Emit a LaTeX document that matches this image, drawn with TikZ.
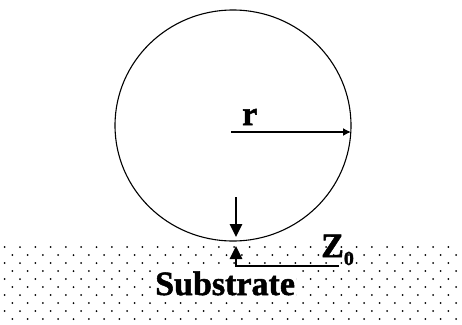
\documentclass[tikz,border=0pt]{standalone}
\usepackage{fontspec}
\setmainfont{Liberation Serif}
\newfontfamily\heavy[FakeBold=1.5]{Liberation Serif Bold}
\usetikzlibrary{arrows.meta}
\begin{document}
\begin{tikzpicture}[x=1pt,y=-1pt,
  dotstyle/.style={fill=black},
  outline/.style={line width=1.1pt},
  bigarrow/.style={line width=2.6pt,-{Triangle[length=13pt,width=12pt]}},
  radarrow/.style={line width=1.4pt,-{Latex[length=8pt,width=8pt]}},
  lbl/.style={font=\fontsize{34}{34}\heavy,inner sep=0pt}]
\useasboundingbox[fill=white] (0,0) rectangle (462,324);
% substrate dots
\foreach \i in {0,...,9}{
  \pgfmathsetmacro{\yy}{247+8*\i}
  \pgfmathsetmacro{\xo}{mod(\i,2)==0 ? 4.7 : 12.3}
  \foreach \k in {0,...,30}{
    \fill[dotstyle] ({\xo+15.3*\k},\yy) circle[radius=1pt];
  }
}
% sphere
\draw[outline] (233,125.5) ellipse [x radius=118, y radius=115.5];
% radius arrow
\coordinate (c) at (231,132);
\coordinate (e) at (351,132);
\draw[radarrow] (c) -- (e);
\node[lbl,anchor=base west] (r) at (242,125) {r};
% gap arrows
\coordinate (d1) at (236,197);
\coordinate (d2) at (236,237);
\draw[bigarrow] (d1) -- (d2);
\coordinate (h1) at (339,266);
\coordinate (h2) at (236,266);
\coordinate (u2) at (236,246);
\draw[bigarrow] (h1) -- (h2) -- (u2);
% labels
\node[lbl,anchor=base west] (z) at (321,257) {Z\raisebox{-8pt}{\fontsize{20}{20}\heavy 0}};
\node[lbl,anchor=base west,fill=white,inner sep=1pt] (s) at (154,295) {Substrate};
\end{tikzpicture}
\end{document}
